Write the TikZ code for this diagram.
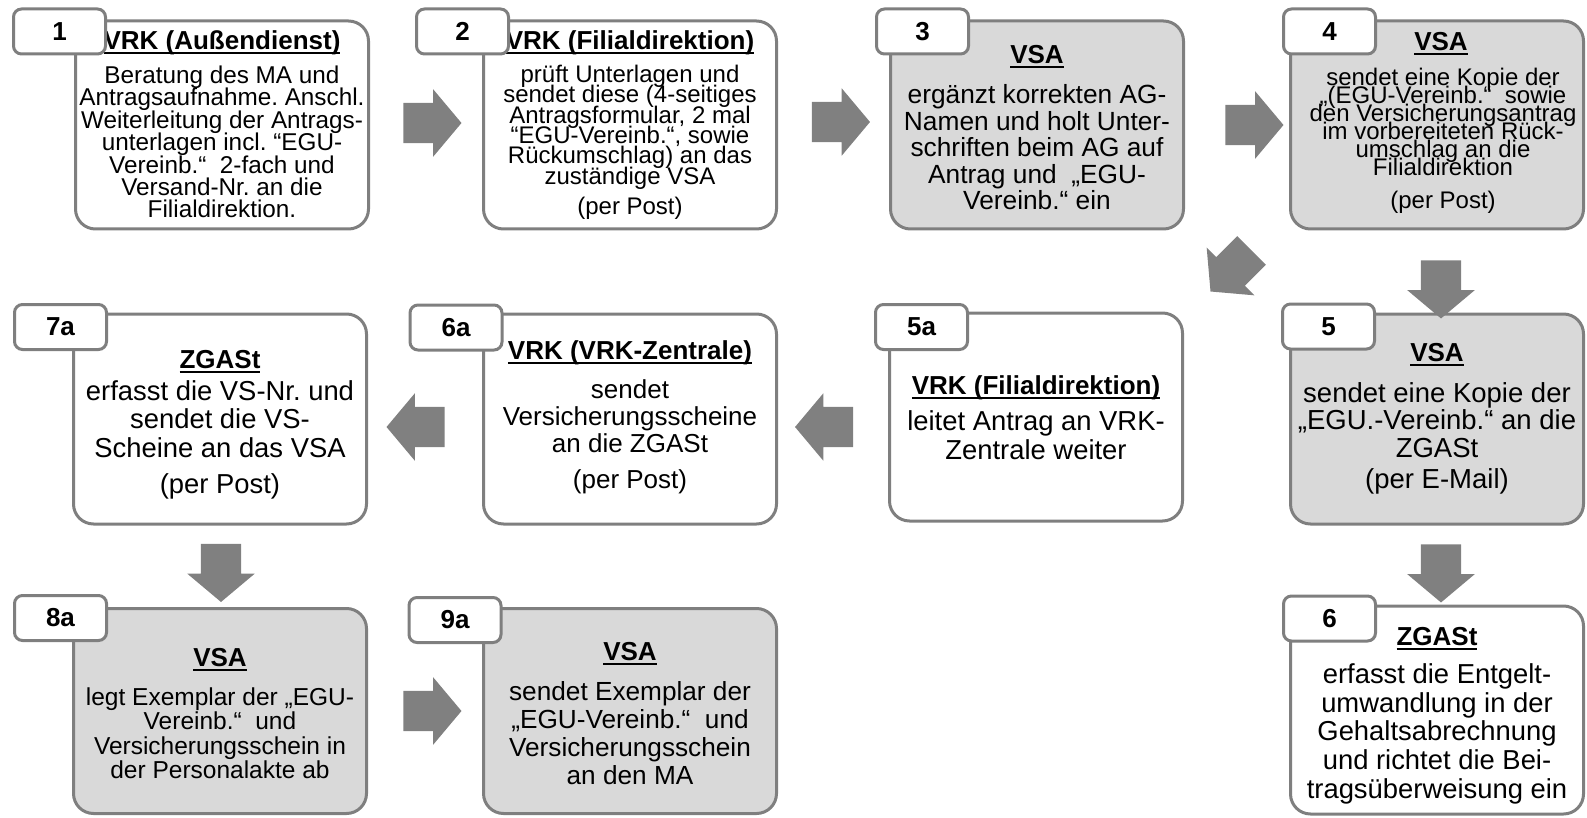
\documentclass[tikz,border=0pt]{standalone}
\usepackage{fontspec}
\setmainfont{Liberation Sans}
\usetikzlibrary{shapes.arrows}
\definecolor{framegray}{HTML}{7F7F7F}
\definecolor{boxgray}{HTML}{D9D9D9}
\definecolor{arrowgray}{HTML}{808080}
\newcommand{\uln}[1]{\setbox0\hbox{#1}\rlap{\vrule height -3pt depth 4.8pt width \wd0}\box0}
\frenchspacing
\setlength{\lineskiplimit}{-100pt}

\begin{document}
\begin{tikzpicture}[x=1pt, y=-1pt,
		stepbox/.style={draw=framegray, line width=3pt, rounded corners=20pt, minimum width=293pt, inner sep=0pt},
		whitebox/.style={stepbox, fill=white},
		graybox/.style={stepbox, fill=boxgray},
		tab/.style={draw=framegray, line width=3pt, rounded corners=8pt, fill=white, minimum width=92pt, minimum height=45pt, inner sep=0pt, font=\bfseries\fontsize{26}{26}\selectfont},
		ttl/.style={anchor=north, inner sep=0pt, font=\bfseries\fontsize{26}{26}\selectfont},
		txt/.style={anchor=north, inner sep=0pt, align=center},
		blockarrow/.style={single arrow, fill=arrowgray, draw=none, inner xsep=0pt, inner ysep=20pt, minimum height=58pt, single arrow head extend=13.5pt, single arrow tip angle=100}]
		\useasboundingbox (0,0) rectangle (1587,818);

		\node[whitebox, minimum height=208pt] (b1) at (222,125) {};
		\node[whitebox, minimum height=208pt] (b2) at (630,125) {};
		\node[graybox, minimum height=208pt] (b3) at (1037,125) {};
		\node[graybox, minimum height=208pt] (b4) at (1437,125) {};
		\node[whitebox, minimum height=210pt] (b7a) at (220,419) {};
		\node[whitebox, minimum height=210pt] (b6a) at (630,419) {};
		\node[whitebox, minimum height=208pt] (b5a) at (1036,417) {};
		\node[graybox, minimum height=210pt] (b5) at (1437,419) {};
		\node[graybox, minimum height=205pt] (b8a) at (220,711) {};
		\node[graybox, minimum height=205pt] (b9a) at (630,711) {};
		\node[whitebox, minimum height=208pt] (b6) at (1437,710) {};

		\node[ttl] (h1) at (222,30) {\uln{VRK (Außendienst)}};
		\node[txt, font=\fontsize{24.3}{22.4}\selectfont] (x1) at (222,65.6) {Beratung des MA und\\Antragsaufnahme. Anschl.\\Weiterleitung der Antrags-\\unterlagen incl. “EGU-\\Vereinb.“\ \ 2-fach und\\Versand-Nr. an die\\Filialdirektion.};
		\node[ttl] (h2) at (630,30) {\uln{VRK (Filialdirektion)}};
		\node[txt, font=\fontsize{24}{20.4}\selectfont] (x2) at (630,64.8) {prüft Unterlagen und\\sendet diese (4-seitiges\\Antragsformular, 2 mal\\“EGU-Vereinb.“, sowie\\Rückumschlag) an das\\zuständige VSA\\[9.6pt](per Post)};
		\node[ttl] (h3) at (1037,45) {\uln{VSA}};
		\node[txt, font=\fontsize{26.3}{26.6}\selectfont] (x3) at (1037,84.2) {ergänzt korrekten AG-\\Namen und holt Unter-\\schriften beim AG auf\\Antrag und\ \ „EGU-\\Vereinb.“ ein};
		\node[ttl] (h4) at (1441,32) {\uln{VSA}};
		\node[txt, font=\fontsize{24}{18}\selectfont] (x4) at (1443,67.8) {sendet eine Kopie der\\„(EGU-Vereinb.“\ \ sowie\\den Versicherungsantrag\\im vorbereiteten Rück-\\umschlag an die\\Filialdirektion\\[15pt](per Post)};
		\node[ttl] (h5) at (1437,343) {\uln{VSA}};
		\node[txt, font=\fontsize{27.5}{27.5}\selectfont] (x5) at (1437,382) {sendet eine Kopie der\\„EGU.-Vereinb.“ an die\\ZGASt\\[3.8pt](per E-Mail)};
		\node[ttl] (h5a) at (1036,375) {\uln{VRK (Filialdirektion)}};
		\node[txt, font=\fontsize{27.4}{29}\selectfont] (x5a) at (1036,410.4) {leitet Antrag an VRK-\\Zentrale weiter};
		\node[ttl] (h6a) at (630,340) {\uln{VRK (VRK-Zentrale)}};
		\node[txt, font=\fontsize{26}{27}\selectfont] (x6a) at (630,379.4) {sendet\\Versicherungsscheine\\an die ZGASt\\[9pt](per Post)};
		\node[ttl] (h7a) at (220,350) {\uln{ZGASt}};
		\node[txt, font=\fontsize{27.4}{28.3}\selectfont] (x7a) at (220,380.4) {erfasst die VS-Nr. und\\sendet die VS-\\Scheine an das VSA\\[8pt](per Post)};
		\node[ttl] (h8a) at (220,648) {\uln{VSA}};
		\node[txt, font=\fontsize{24.5}{24.5}\selectfont] (x8a) at (220,687.5) {legt Exemplar der „EGU-\\Vereinb.“\ \ und\\Versicherungsschein in\\der Personalakte ab};
		\node[ttl] (h9a) at (630,642) {\uln{VSA}};
		\node[txt, font=\fontsize{26.2}{28}\selectfont] (x9a) at (630,681) {sendet Exemplar der\\„EGU-Vereinb.“\ \ und\\Versicherungsschein\\an den MA};
		\node[ttl] (h6) at (1437,627) {\uln{ZGASt}};
		\node[txt, font=\fontsize{27.4}{28.75}\selectfont] (x6) at (1437,663.4) {erfasst die Entgelt-\\umwandlung in der\\Gehaltsabrechnung\\und richtet die Bei-\\tragsüberweisung ein};

		\node[tab] (n1) at (59.5,31.5) {1};
		\node[tab] (n2) at (462.5,31.5) {2};
		\node[tab] (n3) at (922.5,31.5) {3};
		\node[tab] (n4) at (1329.5,31.5) {4};
		\node[tab] (n7a) at (60.5,327) {7a};
		\node[tab] (n6a) at (456,327.5) {6a};
		\node[tab] (n5a) at (921.5,327) {5a};
		\node[tab] (n5) at (1328.5,326.5) {5};
		\node[tab] (n8a) at (60.5,618) {8a};
		\node[tab] (n9a) at (455,620) {9a};
		\node[tab] (n6) at (1329.5,618.5) {6};

		\node[blockarrow] (a12) at (424,123) {};
		\node[blockarrow] (a23) at (832.5,122) {};
		\node[blockarrow] (a34) at (1246,125) {};
		\node[blockarrow, rotate=-90] (a45) at (1441,281) {};
		\node[blockarrow, rotate=225] (a45a) at (1237,265) {};
		\node[blockarrow, rotate=180] (a5a6a) at (832.5,427) {};
		\node[blockarrow, rotate=180] (a6a7a) at (424,427) {};
		\node[blockarrow, rotate=-90] (a7a8a) at (221,564.5) {};
		\node[blockarrow] (a8a9a) at (424,711) {};
		\node[blockarrow, rotate=-90] (a56) at (1441,565) {};
	\end{tikzpicture}
\end{document}
